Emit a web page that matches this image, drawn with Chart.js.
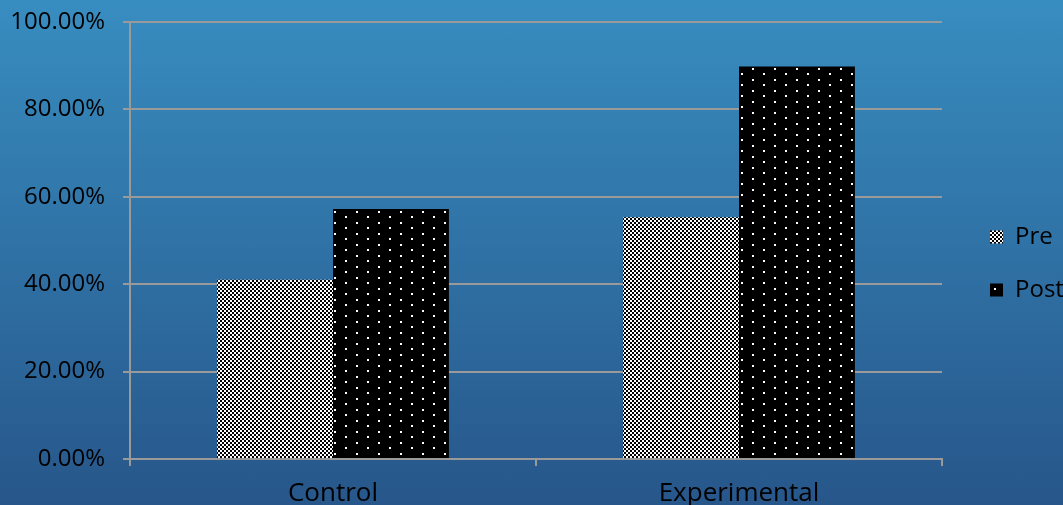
<!DOCTYPE html>
<html>
<head>
<meta charset="utf-8">
<script src="https://cdn.jsdelivr.net/npm/chart.js@4"></script>
<style>
  html, body { margin: 0; padding: 0; }
  body { width: 1063px; height: 505px; background: linear-gradient(to bottom, #388dc0, #27568a); }
  #wrap { position: relative; width: 1063px; height: 505px; }
</style>
</head>
<body>
<div id="wrap"><canvas id="barChart"></canvas></div>
<script>
const categories = ['Control', 'Experimental'];
const seriesNames = ['Pre', 'Post'];
const preValues = [41.0, 55.3];
const postValues = [57.2, 89.8];
const yTickValues = [0, 20, 40, 60, 80, 100];

// fill patterns for the bars
function checkerPattern() {
    const c = document.createElement('canvas');
    c.width = 4;
    c.height = 4;
    const g = c.getContext('2d');
    g.fillStyle = '#ffffff';
    g.fillRect(0, 0, 4, 4);
    g.fillStyle = '#000000';
    g.fillRect(0, 0, 2, 2);
    g.fillRect(2, 2, 2, 2);
    return g.createPattern(c, 'repeat');
}

function dotPattern() {
    const c = document.createElement('canvas');
    c.width = 22;
    c.height = 11;
    const g = c.getContext('2d');
    g.fillStyle = '#000000';
    g.fillRect(0, 0, 22, 11);
    g.fillStyle = '#ffffff';
    g.fillRect(4, 2, 2, 2);
    g.fillRect(15, 7, 2, 2);
    return g.createPattern(c, 'repeat');
}

const ctx = document.getElementById('barChart').getContext('2d');
const fontFamily = '"Open Sans", sans-serif';
const lineGray = '#9a9a9a';

new Chart(ctx, {
    type: 'bar',
    data: {
        labels: categories,
        datasets: [{
            label: seriesNames[0],
            data: preValues,
            backgroundColor: checkerPattern(),
            borderWidth: 0
        }, {
            label: seriesNames[1],
            data: postValues,
            backgroundColor: dotPattern(),
            borderWidth: 0
        }]
    },
    options: {
        responsive: true,
        maintainAspectRatio: false,
        animation: false,
        categoryPercentage: 0.571,
        barPercentage: 1.0,
        layout: { padding: { top: 22, left: 0, right: 0, bottom: 0 } },
        plugins: {
            tooltip: { enabled: false },
            legend: {
                position: 'right',
                maxWidth: 102,
                labels: {
                    boxWidth: 13,
                    boxHeight: 13,
                    padding: 29,
                    color: '#000000',
                    font: { family: fontFamily, size: 24 }
                }
            }
        },
        scales: {
            x: {
                afterFit: (scale) => { scale.height = 46; },
                grid: {
                    display: true,
                    drawOnChartArea: false,
                    drawTicks: true,
                    tickLength: 7,
                    color: lineGray,
                    lineWidth: 2
                },
                border: { display: true, color: lineGray, width: 2 },
                ticks: {
                    color: '#000000',
                    padding: 12,
                    font: { family: fontFamily, size: 26 }
                }
            },
            y: {
                min: 0,
                max: 100,
                afterFit: (scale) => {
                    scale.width = 130;
                    scale.paddingTop = 0;
                    scale.paddingBottom = 0;
                },
                afterBuildTicks: (scale) => {
                    scale.ticks = yTickValues.map(v => ({ value: v }));
                },
                grid: {
                    color: lineGray,
                    lineWidth: 2,
                    tickLength: 7
                },
                border: { display: true, color: lineGray, width: 2 },
                ticks: {
                    color: '#000000',
                    padding: 18,
                    font: { family: fontFamily, size: 24 },
                    callback: (v) => v.toFixed(2) + '%'
                }
            },
            yPad: {
                type: 'linear',
                position: 'right',
                display: true,
                grid: { display: false },
                border: { display: false },
                ticks: { display: false },
                afterFit: (scale) => { scale.width = 19; }
            }
        }
    }
});
</script>
</body>
</html>
